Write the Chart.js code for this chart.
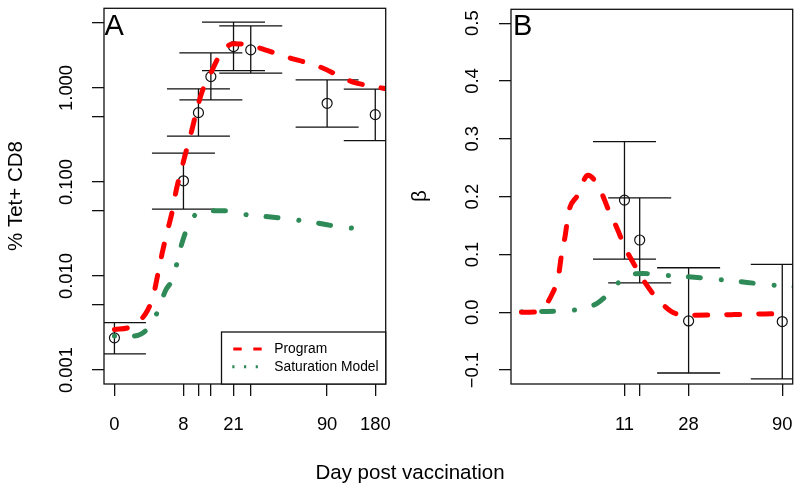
<!DOCTYPE html>
<html>
<head>
<meta charset="utf-8">
<script src="https://cdn.jsdelivr.net/npm/chart.js@4/dist/chart.umd.min.js"></script>
<style>
  body { margin: 0; background: #fff; width: 800px; height: 491px; position: relative; overflow: hidden; font-family: "Liberation Sans", Arial, sans-serif; }
  canvas { position: absolute; top: 0; }
  #panelA { left: 0; }
  #panelB { left: 400px; }
  #xlab { position: absolute; left: 0; width: 820px; top: 460px; line-height: 23px; font-size: 20.5px; text-align: center; color: #000; }
</style>
</head>
<body>
<canvas id="panelA" width="400" height="491"></canvas>
<canvas id="panelB" width="400" height="491"></canvas>
<div id="xlab">Day post vaccination</div>
<script>
// x axis is drawn on log(day + 5)
const DAY_SHIFT = 5;

// panel A: tetramer+ CD8 (%)
const obsDaysA = [0, 8, 11, 14, 21, 28, 90, 180];
const obsMeanA = [0.0022, 0.103, 0.546, 1.32, 2.75, 2.54, 0.687, 0.52];
const obsLowA = [0.00149, 0.0515, 0.308, 0.745, 1.53, 1.44, 0.384, 0.275];
const obsHighA = [0.0032, 0.203, 0.976, 2.36, 5.0, 4.57, 1.22, 0.97];

const programDaysA = [0, 1.3, 2.9, 3.6, 4.2, 4.7, 5.4, 6.1, 6.8, 7.5, 8.7, 9.5, 10.6, 11.8, 14.3, 16.7, 21, 25, 31, 48, 82, 128, 185, 210];
const programValsA = [0.0027, 0.0029, 0.0043, 0.0064, 0.0113, 0.0178, 0.030, 0.0475, 0.084, 0.126, 0.235, 0.34, 0.573, 0.906, 1.53, 2.30, 2.95, 2.92, 2.71, 2.16, 1.66, 1.17, 1.02, 0.98];

const satDaysA = [0, 1.5, 3.0, 4.2, 5.1, 6.4, 7.1, 8.05, 9.3, 12.6, 18.3, 24.3, 32.8, 52, 74, 115, 165];
const satValsA = [0.0023, 0.0023, 0.0028, 0.0044, 0.0069, 0.0100, 0.0161, 0.0257, 0.0386, 0.0493, 0.0493, 0.0455, 0.0436, 0.0403, 0.0371, 0.0329, 0.0314];

// panel B: beta
const obsDaysB = [11, 14, 28, 90];
const obsMeanB = [0.194, 0.125, -0.015, -0.016];
const obsLowB = [0.092, 0.051, -0.105, -0.115];
const obsHighB = [0.295, 0.198, 0.077, 0.083];

const programDaysB = [0, 1, 2.1, 2.6, 2.9, 3.2, 3.5, 4.4, 5.6, 7.0, 8.4, 9.6, 11.2, 12.9, 15.3, 18.1, 23.4, 28.7, 50, 90];
const programValsB = [0, 0.001, 0.033, 0.064, 0.105, 0.133, 0.172, 0.202, 0.237, 0.216, 0.176, 0.148, 0.110, 0.082, 0.050, 0.024, -0.002, -0.005, -0.004, -0.002];

const satDaysB = [0, 2.6, 4.5, 6.75, 8.65, 10.9, 14.8, 19, 25, 32.8, 50, 75, 105];
const satValsB = [0.001, 0.002, 0.005, 0.0155, 0.0355, 0.060, 0.0672, 0.0643, 0.0626, 0.0597, 0.054, 0.048, 0.044];

// ticks
const xTickDaysA = [0, 8, 11, 14, 21, 28, 90, 180];
const xTickLabelsA = ['0', '8', '', '', '21', '', '90', '180'];
const xTickDaysB = [11, 14, 28, 90];
const xTickLabelsB = ['11', '', '28', '90'];
const yTicksA = [0.001, 0.005, 0.01, 0.05, 0.1, 0.5, 1, 5];
const yTickLabelsA = ['0.001', '', '0.010', '', '0.100', '', '1.000', ''];
const yTicksB = [-0.1, 0, 0.1, 0.2, 0.3, 0.4, 0.5];
const yTickLabelsB = ['\u22120.1', '0.0', '0.1', '0.2', '0.3', '0.4', '0.5'];

const RED = '#ff0000';
const GREEN = '#2e8b57';
const FONT = '"Liberation Sans", Arial, sans-serif';

const toPoints = (days, vals) => days.map((d, i) => ({ x: d + DAY_SHIFT, y: vals[i] }));

// R style 4% padding on a log(day+5) axis
function paddedDayRange(first, last) {
    const lo = Math.log10(first + DAY_SHIFT), hi = Math.log10(last + DAY_SHIFT);
    const pad = (hi - lo) * 0.04;
    return [Math.pow(10, lo - pad), Math.pow(10, hi + pad)];
}

const errorBars = {
    id: 'errorBars',
    beforeDatasetsDraw(chart, args, opts) {
        const { ctx, chartArea: a, scales: { x, y } } = chart;
        ctx.save();
        ctx.beginPath();
        ctx.rect(a.left, a.top, a.width, a.height);
        ctx.clip();
        ctx.strokeStyle = '#111';
        ctx.lineWidth = 1.3;
        opts.days.forEach((d, i) => {
            const px = x.getPixelForValue(d + DAY_SHIFT);
            const lo = y.getPixelForValue(opts.low[i]);
            const hi = y.getPixelForValue(opts.high[i]);
            ctx.beginPath();
            ctx.moveTo(px, lo); ctx.lineTo(px, hi);
            ctx.moveTo(px - 31.5, lo); ctx.lineTo(px + 31.5, lo);
            ctx.moveTo(px - 31.5, hi); ctx.lineTo(px + 31.5, hi);
            ctx.stroke();
        });
        ctx.restore();
    }
};

const panelDecor = {
    id: 'panelDecor',
    afterDraw(chart, args, opts) {
        const { ctx, chartArea: a, scales: { y } } = chart;
        ctx.save();
        // box
        ctx.strokeStyle = '#111';
        ctx.lineWidth = 1.3;
        ctx.strokeRect(a.left, a.top, a.width, a.height);

        // rotated y tick labels
        ctx.fillStyle = '#000';
        ctx.font = '18.4px ' + FONT;
        ctx.textAlign = 'center';
        ctx.textBaseline = 'middle';
        opts.yTicks.forEach((v, i) => {
            if (!opts.yLabels[i]) return;
            ctx.save();
            ctx.translate(opts.labelX, y.getPixelForValue(v));
            ctx.rotate(-Math.PI / 2);
            ctx.fillText(opts.yLabels[i], 0, 0);
            ctx.restore();
        });

        // y title
        ctx.font = '20.5px ' + FONT;
        ctx.save();
        ctx.translate(opts.titleX, 196);
        ctx.rotate(-Math.PI / 2);
        ctx.fillText(opts.title, 0, 0);
        ctx.restore();

        // panel letter
        ctx.font = '29px ' + FONT;
        ctx.textAlign = 'left';
        ctx.textBaseline = 'alphabetic';
        ctx.fillText(opts.letter, a.left + opts.letterDx, 35);

        if (opts.legend) {
            const ds = chart.data.datasets;
            const lx = 221.5, ly = 332;
            ctx.fillStyle = '#fff';
            ctx.fillRect(lx, ly, a.right - lx, a.bottom - ly);
            ctx.strokeStyle = '#111';
            ctx.lineWidth = 1.3;
            ctx.strokeRect(lx, ly, a.right - lx, a.bottom - ly);

            ctx.lineWidth = 3;
            ctx.lineCap = 'butt';
            ctx.strokeStyle = ds[0].borderColor;
            ctx.setLineDash([8.4, 11.6]);
            ctx.beginPath(); ctx.moveTo(233.3, 349); ctx.lineTo(262, 349); ctx.stroke();
            ctx.strokeStyle = ds[1].borderColor;
            ctx.setLineDash([2.2, 9.5]);
            ctx.beginPath(); ctx.moveTo(232.3, 366.7); ctx.lineTo(258, 366.7); ctx.stroke();
            ctx.setLineDash([]);

            ctx.fillStyle = '#000';
            ctx.font = '13.8px ' + FONT;
            ctx.textBaseline = 'middle';
            ctx.fillText(ds[0].label, 274.3, 349);
            ctx.fillText(ds[1].label, 274.3, 366.7);
        }
        ctx.restore();
    }
};

function makePanel(canvasId, p) {
    const ctx = document.getElementById(canvasId).getContext('2d');
    const [xMin, xMax] = paddedDayRange(p.xFirst, p.xLast);
    const tickStyle = { color: '#111', lineWidth: 1.3, drawOnChartArea: false, drawTicks: true, tickLength: 12 };

    return new Chart(ctx, {
        type: 'scatter',
        data: {
            datasets: [
                {
                    label: 'Program',
                    data: toPoints(p.progDays, p.progVals),
                    showLine: true,
                    borderColor: RED,
                    borderWidth: 5,
                    borderDash: [13, 19],
                    borderCapStyle: 'round',
                    cubicInterpolationMode: 'monotone',
                    pointRadius: 0,
                    order: 0
                },
                {
                    label: 'Saturation Model',
                    data: toPoints(p.satDays, p.satVals),
                    showLine: true,
                    borderColor: GREEN,
                    borderWidth: 5,
                    borderDash: [0.1, 20, 12, 21],
                    borderCapStyle: 'round',
                    cubicInterpolationMode: 'monotone',
                    pointRadius: 0,
                    order: 1
                },
                {
                    label: 'Observed',
                    data: toPoints(p.obsDays, p.obsMean),
                    pointStyle: 'circle',
                    pointRadius: 5,
                    borderWidth: 1.2,
                    borderColor: '#111',
                    backgroundColor: 'rgba(0,0,0,0)',
                    order: 2
                }
            ]
        },
        options: {
            responsive: false,
            animation: false,
            layout: { padding: { left: 0, right: p.padRight, top: p.padTop, bottom: 0 } },
            scales: {
                x: {
                    type: 'logarithmic',
                    min: xMin,
                    max: xMax,
                    afterBuildTicks: (s) => { s.ticks = p.xTickDays.map(d => ({ value: d + DAY_SHIFT })); },
                    afterFit: (s) => { s.height = 107; s.paddingLeft = 0; s.paddingRight = 0; },
                    border: { display: false },
                    grid: tickStyle,
                    ticks: {
                        autoSkip: false,
                        maxRotation: 0,
                        padding: 18,
                        color: '#000',
                        font: { family: FONT, size: 18.4 },
                        callback: (v, i) => p.xTickLabels[i]
                    }
                },
                y: {
                    type: p.yType,
                    min: p.yMin,
                    max: p.yMax,
                    afterBuildTicks: (s) => { s.ticks = p.yTicks.map(v => ({ value: v })); },
                    afterFit: (s) => { s.width = p.yWidth; s.paddingTop = 0; s.paddingBottom = 0; },
                    border: { display: false },
                    grid: tickStyle,
                    ticks: { display: false }
                }
            },
            plugins: {
                legend: { display: false },
                tooltip: { enabled: false },
                errorBars: { days: p.obsDays, low: p.obsLow, high: p.obsHigh },
                panelDecor: {
                    letter: p.letter,
                    letterDx: p.letterDx,
                    yTicks: p.yTicks,
                    yLabels: p.yTickLabels,
                    labelX: p.labelX,
                    title: p.title,
                    titleX: p.titleX,
                    legend: p.legend
                }
            }
        },
        plugins: [errorBars, panelDecor]
    });
}

makePanel('panelA', {
    xFirst: 0, xLast: 180,
    xTickDays: xTickDaysA, xTickLabels: xTickLabelsA,
    yType: 'logarithmic', yMin: 0.000711, yMax: 7.03,
    yTicks: yTicksA, yTickLabels: yTickLabelsA,
    yWidth: 104, padRight: 14.3, padTop: 8.3,
    obsDays: obsDaysA, obsMean: obsMeanA, obsLow: obsLowA, obsHigh: obsHighA,
    progDays: programDaysA, progVals: programValsA,
    satDays: satDaysA, satVals: satValsA,
    letter: 'A', letterDx: 0.5, labelX: 66.7, title: '% Tet+ CD8', titleX: 16.5, legend: true
});

makePanel('panelB', {
    xFirst: 0, xLast: 90,
    xTickDays: xTickDaysB, xTickLabels: xTickLabelsB,
    yType: 'linear', yMin: -0.124, yMax: 0.524,
    yTicks: yTicksB, yTickLabels: yTickLabelsB,
    yWidth: 111, padRight: 7.3, padTop: 9.3,
    obsDays: obsDaysB, obsMean: obsMeanB, obsLow: obsLowB, obsHigh: obsHighB,
    progDays: programDaysB, progVals: programValsB,
    satDays: satDaysB, satVals: satValsB,
    letter: 'B', letterDx: 2, labelX: 73, title: '\u03b2', titleX: 20, legend: false
});
</script>
</body>
</html>
